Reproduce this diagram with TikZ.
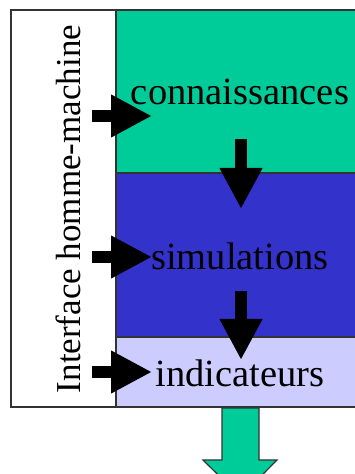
\documentclass[tikz,border=0pt]{standalone}
\usepackage{fontspec}
\setmainfont{Liberation Serif}
\usetikzlibrary{arrows.meta,positioning}

\definecolor{vert}{RGB}{0,204,153}
\definecolor{bleu}{RGB}{51,51,204}
\definecolor{lavande}{RGB}{204,204,255}

\begin{document}
\begin{tikzpicture}[x=1pt,y=1pt,inner sep=0pt,outer sep=0pt]
  \tikzstyle{box}=[draw=black!80,line width=1.2pt,minimum width=241pt,anchor=north west]
  \tikzstyle{titre}=[font=\fontsize{38.5}{40}\selectfont,anchor=base]
  \tikzstyle{fleche}=[line width=12.5pt,-{Triangle[length=41pt,width=40pt]}]
  \tikzstyle{sortie}=[draw=black!80,line width=1.2pt,fill=vert]

  \useasboundingbox (0,0) rectangle (355,474);

  % blocs
  \node[box,minimum width=105pt,minimum height=397pt] (ihm) at (11,464) {};
  \node[box,fill=vert,minimum height=163pt] (conn) at (116,464) {};
  \node[box,fill=bleu,minimum height=164pt,below=0pt of conn] (simu) {};
  \node[box,fill=lavande,minimum height=70pt,below=0pt of simu] (indic) {};

  % textes
  \node[rotate=90,anchor=base,font=\fontsize{35}{37}\selectfont] (tihm) at (80,265) {Interface homme-machine};
  \node[titre] (tconn) at (240,369) {connaissances};
  \node[titre] (tsimu) at (240,204) {simulations};
  \node[titre] (tindic) at (240,87) {indicateurs};

  % fleches
  \coordinate (e1) at (92,358);  \coordinate (f1) at (152,358);
  \coordinate (e2) at (92,217);  \coordinate (f2) at (152,217);
  \coordinate (e3) at (92,102);  \coordinate (f3) at (152,102);
  \coordinate (d1) at (241,335); \coordinate (g1) at (241,265);
  \coordinate (d2) at (241,183); \coordinate (g2) at (241,114);

  \draw[fleche] (e1) -- (f1);
  \draw[fleche] (e2) -- (f2);
  \draw[fleche] (e3) -- (f3);
  \draw[fleche] (d1) -- (g1);
  \draw[fleche] (d2) -- (g2);

  \draw[sortie] (222,66) -- (222,14) -- (203,14) -- (240.5,-23)
    -- (277,14) -- (259,14) -- (259,66) -- cycle;
\end{tikzpicture}
\end{document}
